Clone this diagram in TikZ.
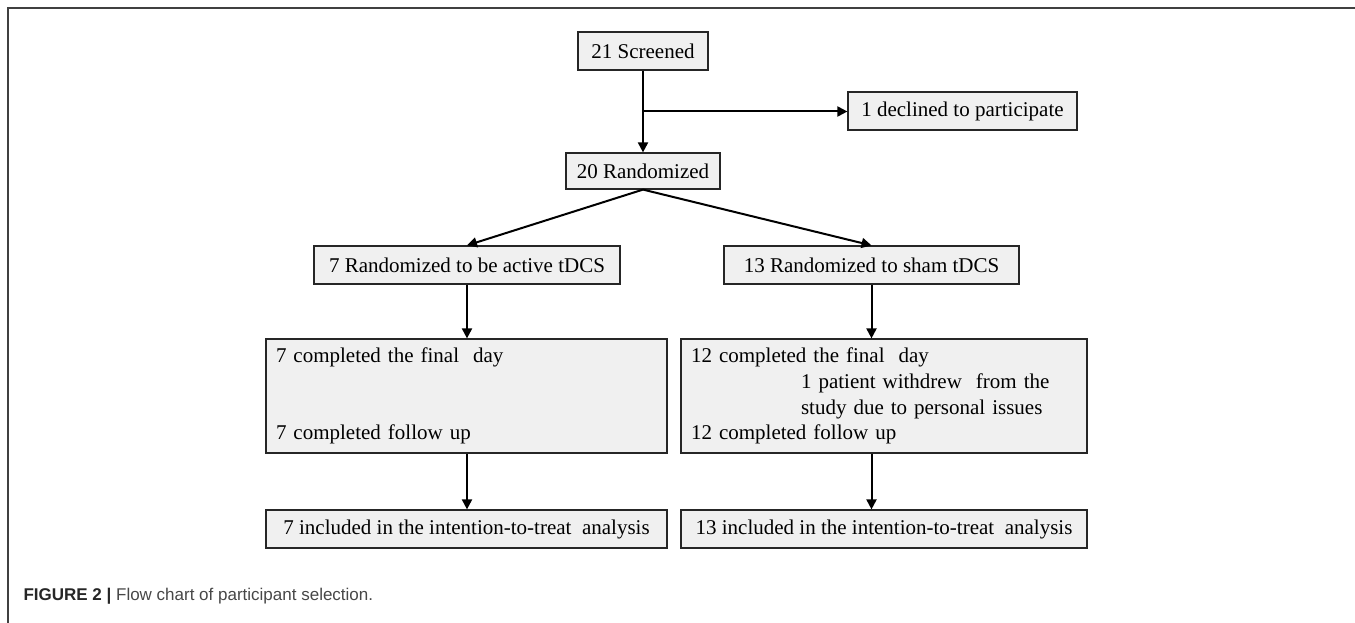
\documentclass[tikz,border=0pt]{standalone}
\usepackage{fontspec}
\setmainfont{Liberation Serif}
\setsansfont{Liberation Sans}
\usepackage{tikz}
\usetikzlibrary{arrows.meta,calc,positioning}

\begin{document}
\begin{tikzpicture}[x=1pt, y=-1pt,
    box/.style={draw=black!85, fill=black!6, line width=1.2pt, minimum height=38pt,
        inner sep=0pt, font=\fontsize{21}{25.7}\selectfont},
    arr/.style={-{Triangle[length=10pt,width=10pt]}, line width=2pt}]
        \useasboundingbox (0,0) rectangle (1355,623);
        % Frame
        \draw[line width=2pt, black!75] (8,623) -- (8,8) -- (1355,8);

        % Screening
        \node[box, minimum width=130pt] (scr) at (643,51) {21 Screened};
        \node[box, minimum width=229pt] (decl) at (962.5,111) {1 declined to participate};
        \node[box, minimum width=154pt, minimum height=36pt] (rnd) at (643,171) {20 Randomized};
        \coordinate (split) at ($(scr.south)!0.5!(rnd.north)$);
        \draw[arr] (scr.south) -- (rnd.north);
        \draw[arr] (split) -- (split -| decl.west);

        % Groups
        \node[box, minimum width=306pt] (act) at (467,265) {7 Randomized to be active tDCS};
        \node[box, minimum width=295pt] (sham) at (871.5,265) {13 Randomized to sham tDCS};
        \draw[arr] (rnd.south) -- (act.north);
        \draw[arr] (rnd.south) -- (sham.north);

        % Follow up
        \node[box, minimum width=401pt, minimum height=114pt, text width=381pt, align=left] (doneact) at (466.5,396)
            {7 completed the final\ \ day\\[51.4pt]7 completed follow up};
        \node[box, minimum width=406pt, minimum height=114pt, text width=386pt, align=left] (donesham) at (884,396)
            {12 completed the final\ \ day\\
             \hspace*{110pt}1 patient withdrew\ \ from the\\
             \hspace*{110pt}study due to personal issues\\
             12 completed follow up};
        \draw[arr] (act.south) -- (act.south |- doneact.north);
        \draw[arr] (sham.south) -- (sham.south |- donesham.north);

        % Analysis
        \node[box, minimum width=401pt] (ittact) at (466.5,529) {7 included in the intention-to-treat\ \ analysis};
        \node[box, minimum width=406pt] (ittsham) at (884,529) {13 included in the intention-to-treat\ \ analysis};
        \draw[arr] (doneact.south -| act) -- (ittact.north -| act);
        \draw[arr] (donesham.south -| sham) -- (ittsham.north -| sham);

        % Caption
        \node[anchor=west, text=black!72, font=\sffamily\fontsize{17}{20}\selectfont] (cap) at (20,596)
            {\textcolor{black!85}{\textbf{FIGURE 2 |}} Flow chart of participant selection.};
\end{tikzpicture}
\end{document}
